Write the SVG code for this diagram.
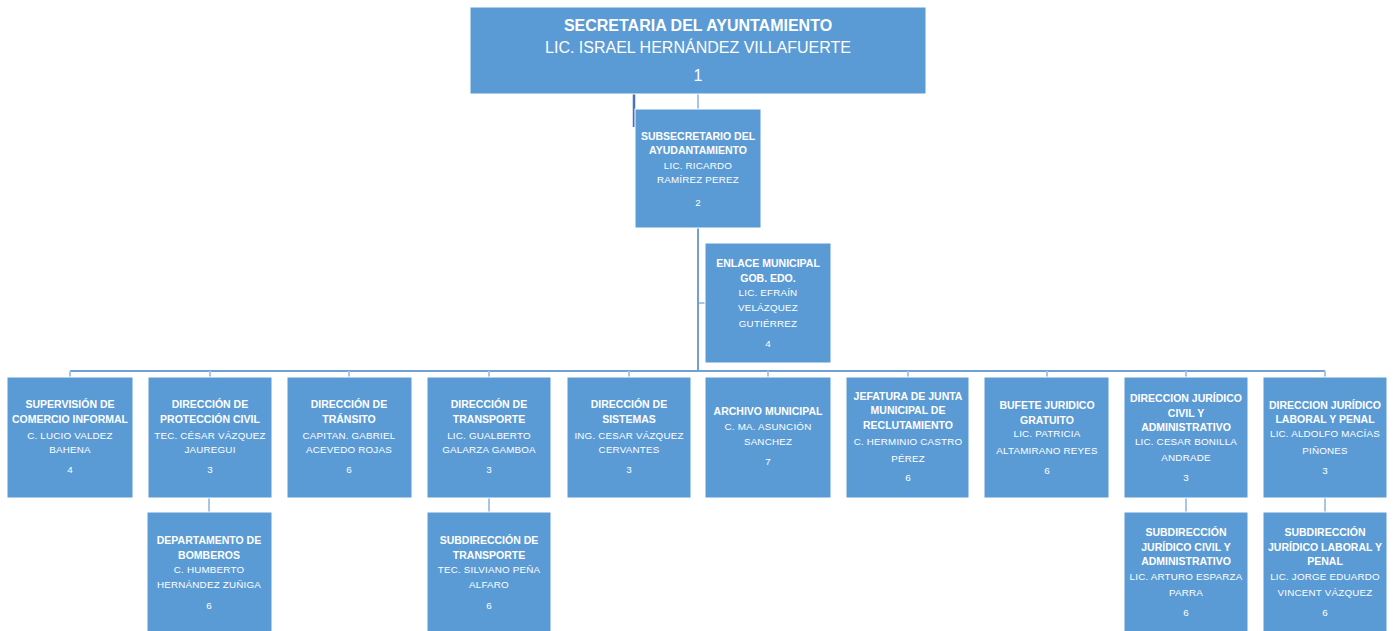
<svg xmlns="http://www.w3.org/2000/svg" width="1395" height="631" viewBox="0 0 1395 631">
<style>
.box{fill:#5B9BD5;stroke:#ffffff;stroke-width:1}
.t{font-family:"Liberation Sans",Arial,sans-serif;font-weight:bold;font-size:10.5px;fill:#ffffff;text-anchor:middle}
.n{font-family:"Liberation Sans",Arial,sans-serif;font-size:9.8px;fill:#ffffff;text-anchor:middle;letter-spacing:0.2px}
.bt{font-family:"Liberation Sans",Arial,sans-serif;font-weight:bold;font-size:16px;fill:#ffffff;text-anchor:middle}
.bn{font-family:"Liberation Sans",Arial,sans-serif;font-size:16px;fill:#ffffff;text-anchor:middle}
.c{stroke:#6FA0D8;stroke-width:2;fill:none}
.cl{stroke:#A9C4E6;stroke-width:2;fill:none}
</style>
<rect width="1395" height="631" fill="#ffffff"/>
<g id="connectors">
<line class="cl" x1="698" y1="94" x2="698" y2="109"/>
<line x1="634" y1="94" x2="634" y2="127" stroke="#4472C4" stroke-width="2.5"/>
<line class="c" x1="698" y1="228" x2="698" y2="371"/>
<line class="cl" x1="699" y1="303" x2="705" y2="303"/>
<line class="c" x1="70" y1="371" x2="1325" y2="371"/>
<line class="cl" x1="70" y1="371" x2="70" y2="377"/>
<line class="cl" x1="210" y1="371" x2="210" y2="377"/>
<line class="cl" x1="349" y1="371" x2="349" y2="377"/>
<line class="cl" x1="489" y1="371" x2="489" y2="377"/>
<line class="cl" x1="629" y1="371" x2="629" y2="377"/>
<line class="cl" x1="768" y1="371" x2="768" y2="377"/>
<line class="cl" x1="908" y1="371" x2="908" y2="377"/>
<line class="cl" x1="1047" y1="371" x2="1047" y2="377"/>
<line class="cl" x1="1186" y1="371" x2="1186" y2="377"/>
<line class="cl" x1="1325" y1="371" x2="1325" y2="377"/>
<line class="cl" x1="209" y1="498" x2="209" y2="512"/>
<line class="cl" x1="489" y1="498" x2="489" y2="512"/>
<line class="cl" x1="1186" y1="498" x2="1186" y2="512"/>
<line class="cl" x1="1325" y1="498" x2="1325" y2="512"/>
</g>
<g id="n1">
<rect class="box" x="470" y="7" width="456" height="87"/>
<text class="bt" x="698" y="31">SECRETARIA DEL AYUNTAMIENTO</text>
<text class="bn" x="698" y="53">LIC. ISRAEL HERNÁNDEZ VILLAFUERTE</text>
<text class="bn" x="698" y="81">1</text>
</g>
<g id="n2">
<rect class="box" x="635" y="109" width="126" height="119"/>
<text class="t" x="698" y="140">SUBSECRETARIO DEL</text>
<text class="t" x="698" y="154">AYUDANTAMIENTO</text>
<text class="n" x="698" y="169">LIC. RICARDO</text>
<text class="n" x="698" y="183">RAMÍREZ PEREZ</text>
<text class="n" x="698" y="206">2</text>
</g>
<g id="n3">
<rect class="box" x="705" y="243" width="126" height="120"/>
<text class="t" x="768" y="267">ENLACE MUNICIPAL</text>
<text class="t" x="768" y="282">GOB. EDO.</text>
<text class="n" x="768" y="296">LIC. EFRAÍN</text>
<text class="n" x="768" y="311">VELÁZQUEZ</text>
<text class="n" x="768" y="327">GUTIÉRREZ</text>
<text class="n" x="768" y="347">4</text>
</g>
<g id="r1">
<rect class="box" x="7" y="377" width="126" height="121"/>
<text class="t" x="70" y="408">SUPERVISIÓN DE</text>
<text class="t" x="70" y="423">COMERCIO INFORMAL</text>
<text class="n" x="70" y="439">C. LUCIO VALDEZ</text>
<text class="n" x="70" y="453">BAHENA</text>
<text class="n" x="70" y="473">4</text>
</g>
<g id="r2">
<rect class="box" x="148" y="377" width="124" height="121"/>
<text class="t" x="210" y="408">DIRECCIÓN DE</text>
<text class="t" x="210" y="423">PROTECCIÓN CIVIL</text>
<text class="n" x="210" y="439">TEC. CÉSAR VÁZQUEZ</text>
<text class="n" x="210" y="453">JAUREGUI</text>
<text class="n" x="210" y="473">3</text>
</g>
<g id="r3">
<rect class="box" x="287" y="377" width="125" height="121"/>
<text class="t" x="349" y="408">DIRECCIÓN DE</text>
<text class="t" x="349" y="423">TRÁNSITO</text>
<text class="n" x="349" y="439">CAPITAN. GABRIEL</text>
<text class="n" x="349" y="453">ACEVEDO ROJAS</text>
<text class="n" x="349" y="473">6</text>
</g>
<g id="r4">
<rect class="box" x="427" y="377" width="124" height="121"/>
<text class="t" x="489" y="408">DIRECCIÓN DE</text>
<text class="t" x="489" y="423">TRANSPORTE</text>
<text class="n" x="489" y="439">LIC. GUALBERTO</text>
<text class="n" x="489" y="453">GALARZA GAMBOA</text>
<text class="n" x="489" y="473">3</text>
</g>
<g id="r5">
<rect class="box" x="567" y="377" width="124" height="121"/>
<text class="t" x="629" y="408">DIRECCIÓN DE</text>
<text class="t" x="629" y="423">SISTEMAS</text>
<text class="n" x="629" y="439">ING. CESAR VÁZQUEZ</text>
<text class="n" x="629" y="453">CERVANTES</text>
<text class="n" x="629" y="473">3</text>
</g>
<g id="r6">
<rect class="box" x="705" y="377" width="126" height="121"/>
<text class="t" x="768" y="415">ARCHIVO MUNICIPAL</text>
<text class="n" x="768" y="430">C. MA. ASUNCIÓN</text>
<text class="n" x="768" y="445">SANCHEZ</text>
<text class="n" x="768" y="465">7</text>
</g>
<g id="r7">
<rect class="box" x="846" y="377" width="123" height="121"/>
<text class="t" x="908" y="400">JEFATURA DE JUNTA</text>
<text class="t" x="908" y="414">MUNICIPAL DE</text>
<text class="t" x="908" y="429">RECLUTAMIENTO</text>
<text class="n" x="908" y="445">C. HERMINIO CASTRO</text>
<text class="n" x="908" y="462">PÉREZ</text>
<text class="n" x="908" y="481">6</text>
</g>
<g id="r8">
<rect class="box" x="984" y="377" width="125" height="121"/>
<text class="t" x="1047" y="409">BUFETE JURIDICO</text>
<text class="t" x="1047" y="424">GRATUITO</text>
<text class="n" x="1047" y="437">LIC. PATRICIA</text>
<text class="n" x="1047" y="454">ALTAMIRANO REYES</text>
<text class="n" x="1047" y="474">6</text>
</g>
<g id="r9">
<rect class="box" x="1124" y="377" width="124" height="121"/>
<text class="t" x="1186" y="402">DIRECCION JURÍDICO</text>
<text class="t" x="1186" y="417">CIVIL Y</text>
<text class="t" x="1186" y="431">ADMINISTRATIVO</text>
<text class="n" x="1186" y="445">LIC. CESAR BONILLA</text>
<text class="n" x="1186" y="461">ANDRADE</text>
<text class="n" x="1186" y="481">3</text>
</g>
<g id="r10">
<rect class="box" x="1263" y="377" width="124" height="121"/>
<text class="t" x="1325" y="409">DIRECCION JURÍDICO</text>
<text class="t" x="1325" y="423">LABORAL Y PENAL</text>
<text class="n" x="1325" y="437">LIC. ALDOLFO MACÍAS</text>
<text class="n" x="1325" y="454">PIÑONES</text>
<text class="n" x="1325" y="474">3</text>
</g>
<g id="s1">
<rect class="box" x="147" y="512" width="125" height="125"/>
<text class="t" x="209" y="544">DEPARTAMENTO DE</text>
<text class="t" x="209" y="559">BOMBEROS</text>
<text class="n" x="209" y="573">C. HUMBERTO</text>
<text class="n" x="209" y="588">HERNÁNDEZ ZUÑIGA</text>
<text class="n" x="209" y="609">6</text>
</g>
<g id="s2">
<rect class="box" x="427" y="512" width="124" height="125"/>
<text class="t" x="489" y="544">SUBDIRECCIÓN DE</text>
<text class="t" x="489" y="559">TRANSPORTE</text>
<text class="n" x="489" y="573">TEC. SILVIANO PEÑA</text>
<text class="n" x="489" y="588">ALFARO</text>
<text class="n" x="489" y="609">6</text>
</g>
<g id="s3">
<rect class="box" x="1124" y="512" width="124" height="125"/>
<text class="t" x="1186" y="536">SUBDIRECCIÓN</text>
<text class="t" x="1186" y="551">JURÍDICO CIVIL Y</text>
<text class="t" x="1186" y="565">ADMINISTRATIVO</text>
<text class="n" x="1186" y="580">LIC. ARTURO ESPARZA</text>
<text class="n" x="1186" y="596">PARRA</text>
<text class="n" x="1186" y="616">6</text>
</g>
<g id="s4">
<rect class="box" x="1263" y="512" width="124" height="125"/>
<text class="t" x="1325" y="536">SUBDIRECCIÓN</text>
<text class="t" x="1325" y="551">JURÍDICO LABORAL Y</text>
<text class="t" x="1325" y="565">PENAL</text>
<text class="n" x="1325" y="580">LIC. JORGE EDUARDO</text>
<text class="n" x="1325" y="596">VINCENT VÁZQUEZ</text>
<text class="n" x="1325" y="616">6</text>
</g>
</svg>
